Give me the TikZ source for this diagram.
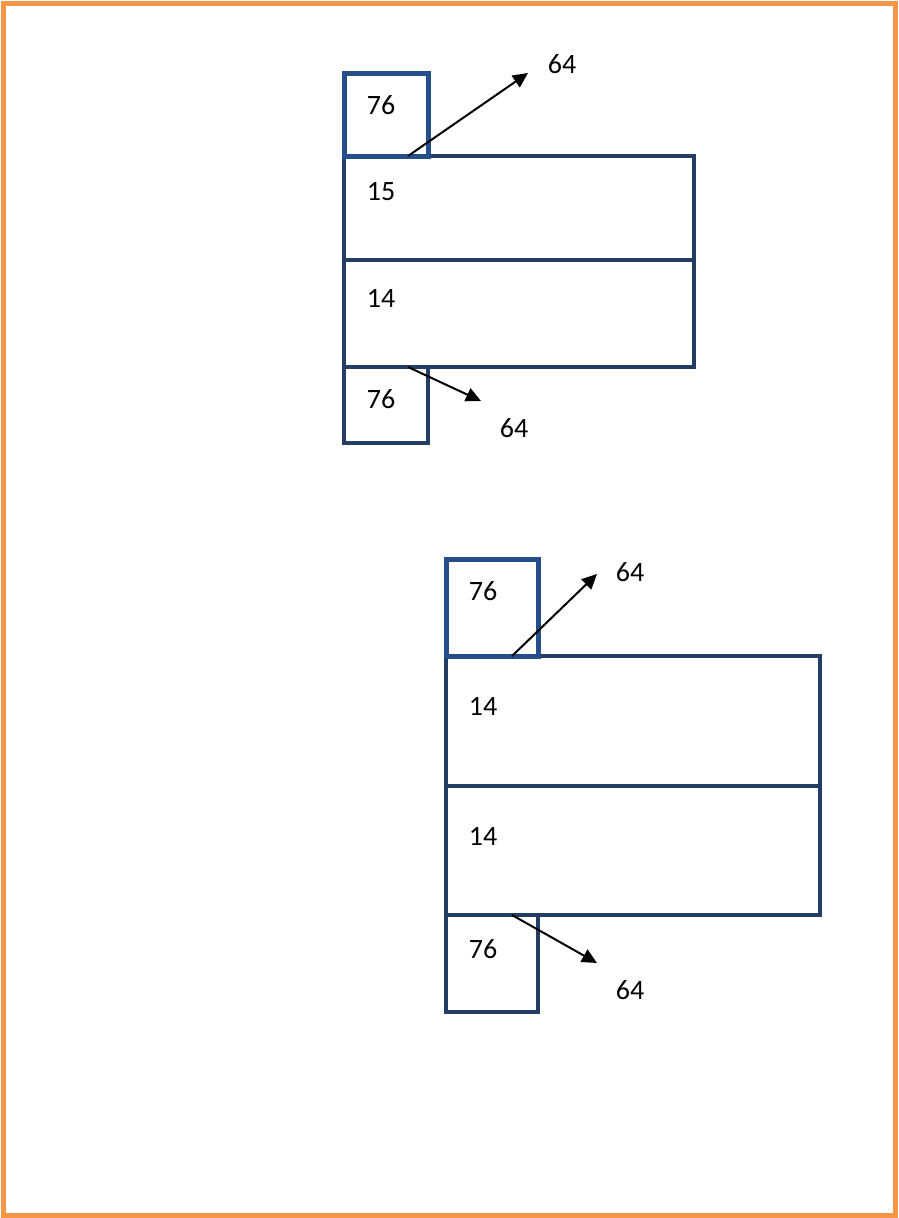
\documentclass[tikz,border=0pt]{standalone}
\usepackage{fontspec}
\setmainfont{Carlito}
\usetikzlibrary{arrows.meta}
\definecolor{frameorange}{RGB}{247,150,70}
\definecolor{boxnavy}{RGB}{36,62,99}
\definecolor{boxblue}{RGB}{38,78,138}
\begin{document}
\begin{tikzpicture}[x=1pt,y=-1pt,
  bar/.style={draw=boxnavy,line width=4.5pt,minimum width=#1,inner sep=0pt,outer sep=0pt,anchor=north west},
  cell/.style={line width=4.5pt,inner sep=0pt,outer sep=0pt,anchor=north west},
  lbl/.style={font=\fontsize{28}{30}\selectfont,inner sep=0pt},
  arr/.style={draw=black,line width=2pt,-{Triangle[length=15pt,width=14pt]}}]
\useasboundingbox (0,0) rectangle (898,1218);
\draw[frameorange,line width=5pt] (3,3) rectangle (895,1215);

% ---- upper group ----
\node[bar=350pt,minimum height=104pt] (u15) at (344,156) {};
\node[bar=350pt,minimum height=107pt] (u14) at (344,260) {};
\node[cell,draw=boxnavy,minimum width=84pt,minimum height=76pt] (ub) at (344,367) {};
\node[cell,draw=boxblue,line width=5pt,minimum width=84pt,minimum height=83pt] (ut) at (344,73) {};
\node[lbl] (lut) at (381,105) {76};
\node[lbl] (lu15) at (381,192) {15};
\node[lbl] (lu14) at (381,298) {14};
\node[lbl] (lub) at (381,399) {76};
\coordinate (ua1) at (408,156);
\coordinate (ua1e) at (528,73);
\coordinate (ua2) at (408,367);
\coordinate (ua2e) at (481,401);
\draw[arr] (ua1) -- (ua1e);
\draw[arr] (ua2) -- (ua2e);
\node[lbl] (lua1) at (562,64) {64};
\node[lbl] (lua2) at (514,428) {64};

% ---- lower group ----
\node[bar=374pt,minimum height=130pt] (l14a) at (446,656) {};
\node[bar=374pt,minimum height=129pt] (l14b) at (446,786) {};
\node[cell,draw=boxnavy,minimum width=92pt,minimum height=97pt] (lb) at (446,915) {};
\node[cell,draw=boxblue,line width=5pt,minimum width=92pt,minimum height=97pt] (lt) at (446,559) {};
\node[lbl] (llt) at (483,591) {76};
\node[lbl] (ll14a) at (483,706) {14};
\node[lbl] (ll14b) at (483,836) {14};
\node[lbl] (llb) at (483,949) {76};
\coordinate (la1) at (512,656);
\coordinate (la1e) at (597,574);
\coordinate (la2) at (512,915);
\coordinate (la2e) at (597,963);
\draw[arr] (la1) -- (la1e);
\draw[arr] (la2) -- (la2e);
\node[lbl] (lla1) at (630,572) {64};
\node[lbl] (lla2) at (630,990) {64};
\end{tikzpicture}
\end{document}
